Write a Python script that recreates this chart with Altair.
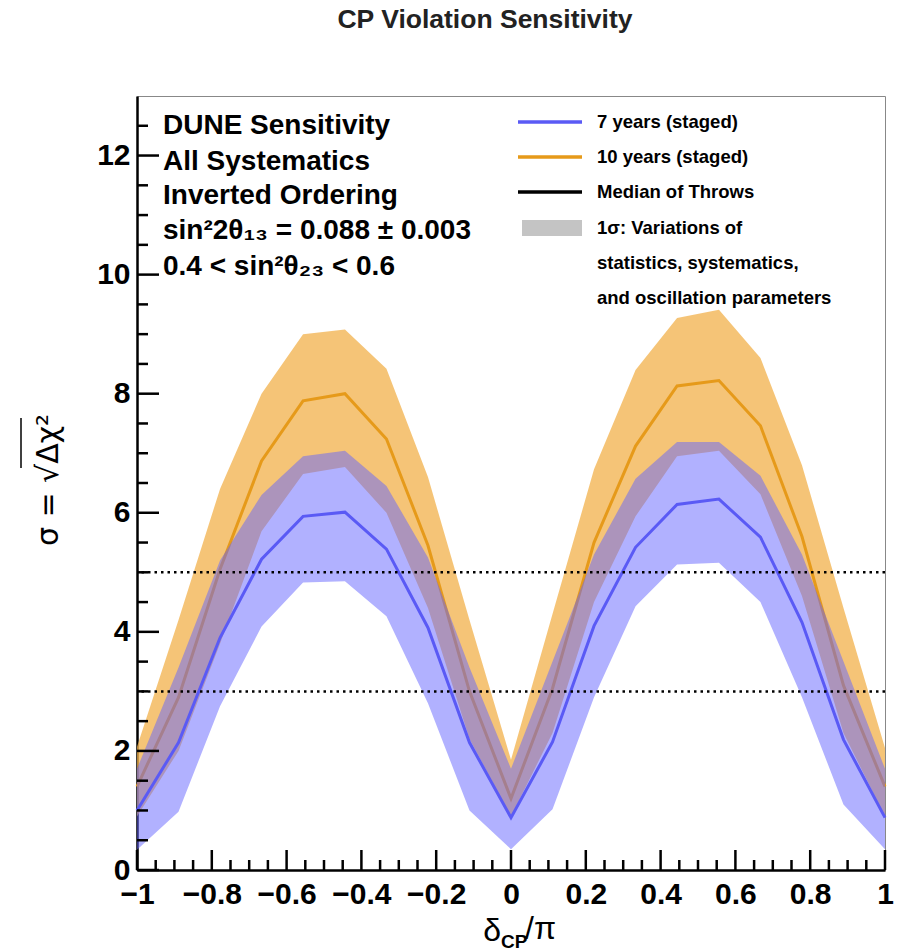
import altair as alt
import pandas as pd

# ---------------- data ----------------
dcp = [-1.0, -0.889, -0.778, -0.667, -0.556, -0.444, -0.333, -0.222, -0.111, 0.0,
       0.111, 0.222, 0.333, 0.444, 0.556, 0.667, 0.778, 0.889, 1.0]

blue_med = [1.0, 2.14, 3.9, 5.22, 5.94, 6.01, 5.39, 4.07, 2.14, 0.88,
            2.15, 4.1, 5.42, 6.14, 6.23, 5.59, 4.16, 2.19, 0.88]
blue_lo = [0.34, 0.98, 2.75, 4.09, 4.83, 4.85, 4.26, 2.8, 1.0, 0.35,
           1.02, 2.9, 4.43, 5.13, 5.16, 4.5, 2.9, 1.1, 0.35]
blue_hi = [1.7, 3.4, 5.2, 6.3, 6.95, 7.04, 6.45, 5.25, 3.4, 1.7,
           3.5, 5.3, 6.57, 7.19, 7.19, 6.62, 5.3, 3.5, 1.7]

orange_med = [1.4, 2.9, 5.05, 6.87, 7.88, 8.0, 7.24, 5.45, 3.0, 1.2,
              3.05, 5.5, 7.12, 8.13, 8.22, 7.46, 5.6, 3.1, 1.4]
orange_lo = [0.9, 2.0, 3.8, 5.69, 6.65, 6.77, 6.0, 4.4, 2.2, 0.9,
             2.3, 4.5, 5.94, 6.95, 7.04, 6.31, 4.6, 2.3, 0.9]
orange_hi = [2.07, 4.2, 6.4, 8.0, 9.0, 9.08, 8.42, 6.6, 4.2, 1.85,
             4.3, 6.73, 8.4, 9.27, 9.41, 8.6, 6.8, 4.4, 2.05]

sigma_levels = [3, 5]

x_major = [-1, -0.8, -0.6, -0.4, -0.2, 0, 0.2, 0.4, 0.6, 0.8, 1]
x_minor = [-0.95, -0.9, -0.85, -0.75, -0.7, -0.65, -0.55, -0.5, -0.45, -0.35, -0.3, -0.25,
           -0.15, -0.1, -0.05, 0.05, 0.1, 0.15, 0.25, 0.3, 0.35, 0.45, 0.5, 0.55,
           0.65, 0.7, 0.75, 0.85, 0.9, 0.95]
y_major = [0, 2, 4, 6, 8, 10, 12]
y_minor = [0.5, 1, 1.5, 2.5, 3, 3.5, 4.5, 5, 5.5, 6.5, 7, 7.5, 8.5, 9, 9.5,
           10.5, 11, 11.5, 12.5]

title_text = "CP Violation Sensitivity"
info_lines = ["DUNE Sensitivity", "All Systematics", "Inverted Ordering",
              "sin²2θ₁₃ = 0.088 ± 0.003", "0.4 < sin²θ₂₃ < 0.6"]
legend_lines = ["7 years (staged)", "10 years (staged)", "Median of Throws",
                "1σ: Variations of", "statistics, systematics,",
                "and oscillation parameters"]

# ---------------- layout ----------------
W, H = 748, 774
FONT = "Liberation Sans"
info_y = [30, 66, 100, 135, 171]
legend_y = [26, 61, 96, 132, 167, 202]

blue_df = pd.DataFrame({"x": dcp, "med": blue_med, "lo": blue_lo, "hi": blue_hi})
orange_df = pd.DataFrame({"x": dcp, "med": orange_med, "lo": orange_lo, "hi": orange_hi})

xscale = alt.Scale(domain=[-1, 1], nice=False, zero=False)
yscale = alt.Scale(domain=[0, 13], nice=False)

xaxis = alt.Axis(values=x_major, format="~g", ticks=False, grid=False, title=None,
                 labelFont=FONT, labelFontSize=30, labelFontWeight="bold",
                 labelColor="black", labelPadding=9, domainColor="black",
                 domainWidth=2.5, labelFlush=False, labelOverlap=False)
yaxis = alt.Axis(values=y_major, format="d", ticks=False, grid=False, title=None,
                 labelFont=FONT, labelFontSize=30, labelFontWeight="bold",
                 labelColor="black", labelPadding=7, domainColor="black",
                 domainWidth=2.5, labelFlush=False, labelOverlap=False)

X = alt.X("x:Q", scale=xscale, axis=xaxis)

orange_band = alt.Chart(orange_df).mark_area(color="#f2b04a", opacity=0.75).encode(
    x=X, y=alt.Y("lo:Q", scale=yscale, axis=yaxis), y2="hi:Q")
orange_line = alt.Chart(orange_df).mark_line(color="#e69a1a", strokeWidth=3).encode(
    x="x:Q", y="med:Q")
blue_band = alt.Chart(blue_df).mark_area(color="#6464ff", opacity=0.5).encode(
    x="x:Q", y="lo:Q", y2="hi:Q")
blue_line = alt.Chart(blue_df).mark_line(color="#5a5af5", strokeWidth=3).encode(
    x="x:Q", y="med:Q")

levels = alt.Chart(pd.DataFrame({"s": sigma_levels})).mark_rule(
    color="black", strokeWidth=2.5, strokeDash=[2.5, 4]).encode(y="s:Q")

tick_style = dict(color="black", strokeWidth=2.5)
xmaj = alt.Chart(pd.DataFrame({"v": x_major})).mark_rule(**tick_style).encode(
    x="v:Q", y=alt.value(H), y2=alt.value(H - 20))
xmin = alt.Chart(pd.DataFrame({"v": x_minor})).mark_rule(**tick_style).encode(
    x="v:Q", y=alt.value(H), y2=alt.value(H - 10))
ymaj = alt.Chart(pd.DataFrame({"v": y_major})).mark_rule(**tick_style).encode(
    y="v:Q", x=alt.value(0), x2=alt.value(22))
ymin = alt.Chart(pd.DataFrame({"v": y_minor})).mark_rule(**tick_style).encode(
    y="v:Q", x=alt.value(0), x2=alt.value(11))


def text_layer(txt, x, y, size, weight="bold", align="left", font=FONT,
               color="black", angle=0, baseline="middle"):
    return alt.Chart(pd.DataFrame({"t": [txt]})).mark_text(
        font=font, fontSize=size, fontWeight=weight, color=color, align=align,
        baseline=baseline, angle=angle).encode(
        text="t:N", x=alt.value(x), y=alt.value(y))


texts = [text_layer(title_text, 348, -76, 26.5, align="center", color="#222")]
texts += [text_layer(t, 26, y, 28) for t, y in zip(info_lines, info_y)]
texts += [text_layer(t, 460, y, 18.5) for t, y in zip(legend_lines, legend_y)]


def seg(color, y):
    return alt.Chart(pd.DataFrame({"a": [0]})).mark_rule(color=color, strokeWidth=3.5).encode(
        x=alt.value(381), x2=alt.value(445), y=alt.value(y))


leg_marks = [seg("#5a5af5", legend_y[0]), seg("#e69a1a", legend_y[1]),
             seg("black", legend_y[2])]
leg_gray = alt.Chart(pd.DataFrame({"a": [0]})).mark_rect(color="#c4c4c4").encode(
    x=alt.value(385), x2=alt.value(445), y=alt.value(124), y2=alt.value(140))

# axis titles
ytitle = text_layer("σ = √Δχ²", -88, 384, 30, weight="normal", align="center",
                    font="DejaVu Sans", angle=270)
yover = alt.Chart(pd.DataFrame({"a": [0]})).mark_rule(color="black", strokeWidth=1.5).encode(
    x=alt.value(-116), y=alt.value(322), y2=alt.value(372))
xt_delta = text_layer("δ", 364, 845, 32, weight="normal", align="right", baseline="alphabetic")
xt_cp = text_layer("CP", 364, 852, 19, align="left", baseline="alphabetic")
xt_pi = text_layer("/π", 388, 843, 32, weight="normal", align="left", baseline="alphabetic")

chart = alt.layer(
    orange_band, orange_line, blue_band, blue_line, levels,
    xmaj, xmin, ymaj, ymin, *texts, *leg_marks, leg_gray,
    ytitle, yover, xt_delta, xt_cp, xt_pi
).properties(
    width=W, height=H,
    padding={"left": 137, "top": 96, "right": 12, "bottom": 82},
    autosize=alt.AutoSizeParams(type="none"),
    background="white"
).configure_view(stroke="#888", strokeWidth=1)

chart.save("out.html", embed_options={"renderer": "svg", "actions": False})
